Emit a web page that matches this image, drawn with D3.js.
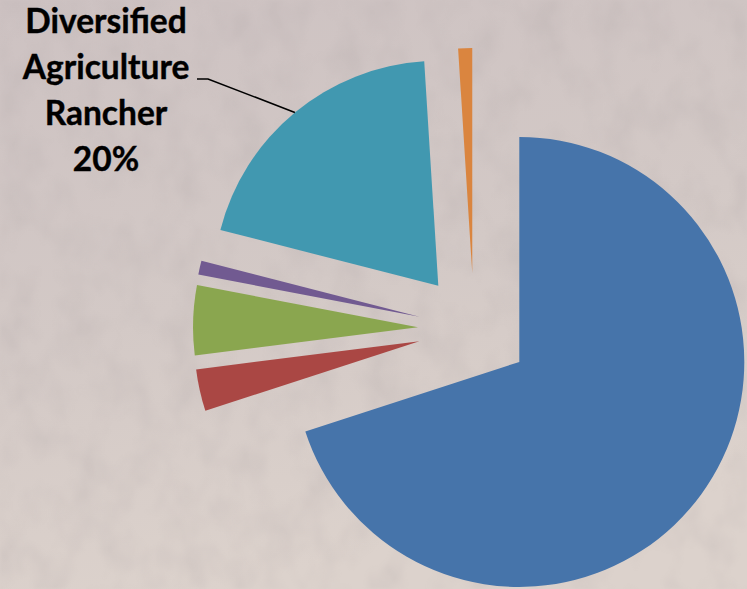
<!DOCTYPE html>
<html>
<head>
<meta charset="utf-8">
<script src="https://cdn.jsdelivr.net/npm/d3@7"></script>
<style>
  html, body { margin: 0; padding: 0; background: #d3c9c6; }
  svg { display: block; }
</style>
</head>
<body>
<svg id="chart" width="747" height="589"></svg>
<script>
// Share of operations by category (percent)
const categories = ["Cow-Calf Rancher", "Stocker Operator", "Feedlot", "Seedstock Producer", "Diversified Agriculture Rancher", "Other"];
const shares = [70.0, 3.0, 5.0, 1.0, 20.0, 1.0];
const colors = ["#4674aa", "#aa4744", "#8aa64f", "#715a91", "#4198b0", "#da853f"];
const labelled = ["Diversified Agriculture Rancher"];
const labelLines = [["Diversified", "Agriculture", "Rancher", "20%"]];

const W = 747, H = 589;
const cx = 474, cy = 329, radius = 225, explode = 56;

const svg = d3.select("#chart");
const defs = svg.append("defs");

// Parchment backdrop: soft gradient with a mottled noise overlay
const grad = defs.append("linearGradient").attr("id", "bg").attr("x1", 0).attr("y1", 0).attr("x2", 0.3).attr("y2", 1);
grad.append("stop").attr("offset", "0%").attr("stop-color", "#cdc2c2");
grad.append("stop").attr("offset", "55%").attr("stop-color", "#d3c9c6");
grad.append("stop").attr("offset", "100%").attr("stop-color", "#dcd2cc");

const f = defs.append("filter").attr("id", "mottle").attr("x", 0).attr("y", 0).attr("width", "100%").attr("height", "100%");
f.append("feTurbulence").attr("type", "fractalNoise").attr("baseFrequency", "0.03 0.022")
  .attr("numOctaves", 3).attr("seed", 7).attr("result", "noise");
f.append("feColorMatrix").attr("in", "noise").attr("type", "matrix")
  .attr("values", "0 0 0 0 0.45  0 0 0 0 0.40  0 0 0 0 0.40  1.1 0 0 0 -0.45");
f.append("feGaussianBlur").attr("stdDeviation", 1.6);

svg.append("rect").attr("width", W).attr("height", H).attr("fill", "url(#bg)");
svg.append("rect").attr("width", W).attr("height", H).attr("fill", "#fff").attr("filter", "url(#mottle)").attr("opacity", 0.5);

const data = categories.map((c, i) => ({ name: c, value: shares[i], color: colors[i] }));

const pie = d3.pie().sort(null).value(d => d.value).startAngle(0).endAngle(2 * Math.PI);
const arcs = pie(data);
const arc = d3.arc().innerRadius(0).outerRadius(radius);

const offset = a => {
  const m = (a.startAngle + a.endAngle) / 2;
  return [Math.sin(m) * explode, -Math.cos(m) * explode];
};

const g = svg.append("g").attr("transform", `translate(${cx},${cy})`);

g.selectAll("path.slice")
  .data(arcs)
  .join("path")
  .attr("class", "slice")
  .attr("d", arc)
  .attr("fill", d => d.data.color)
  .attr("transform", d => `translate(${offset(d)})`);

// Callout label with leader line
arcs.filter(a => labelled.includes(a.data.name)).forEach((a, k) => {
  const m = (a.startAngle + a.endAngle) / 2;
  const [ox, oy] = offset(a);
  const px = cx + ox + Math.sin(m) * radius;
  const py = cy + oy - Math.cos(m) * radius;
  const elbowX = 208, elbowY = 79;
  svg.append("polyline")
    .attr("points", `${px},${py} ${elbowX},${elbowY} ${elbowX - 11},${elbowY}`)
    .attr("fill", "none").attr("stroke", "#000").attr("stroke-width", 1.6);

  const t = svg.append("text")
    .attr("x", 106).attr("y", 33)
    .attr("text-anchor", "middle")
    .attr("font-family", "Lato, 'Open Sans', sans-serif")
    .attr("font-weight", "bold")
    .attr("font-size", 33.5)
    .attr("fill", "#000")
    .attr("stroke", "#000").attr("stroke-width", 0.4);
  labelLines[k].forEach((line, i) => {
    t.append("tspan").attr("x", 106).attr("dy", i === 0 ? 0 : 46).text(line);
  });
});
</script>
</body>
</html>
